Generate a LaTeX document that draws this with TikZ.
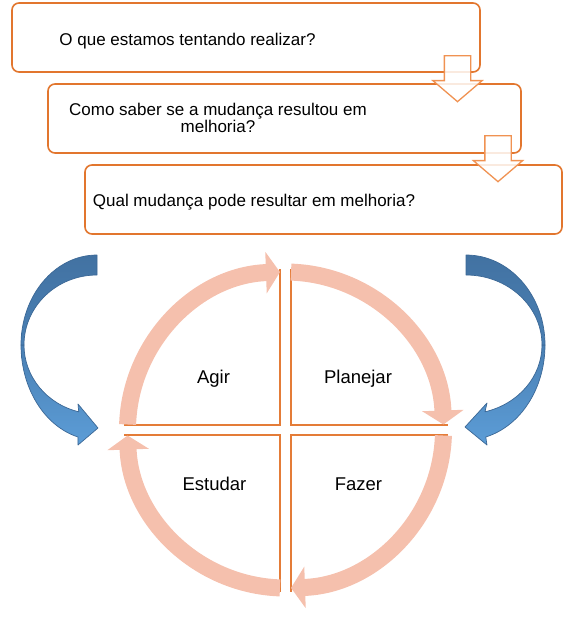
\documentclass[tikz,border=0pt]{standalone}
\usepackage{fontspec}
\setmainfont{Liberation Sans}
\usetikzlibrary{arrows.meta,shapes.arrows}
\definecolor{boxorange}{RGB}{226,118,46}
\definecolor{arroworange}{RGB}{240,146,82}
\definecolor{cyclepink}{RGB}{245,192,173}
\definecolor{quadline}{RGB}{228,124,56}
\definecolor{bluedark}{RGB}{66,114,162}
\definecolor{bluemid}{RGB}{74,128,180}
\definecolor{bluelight}{RGB}{92,157,215}
\definecolor{blueedge}{RGB}{60,104,150}

\begin{document}
\begin{tikzpicture}[
  x=1pt, y=-1pt,
  font=\fontsize{17}{17.7}\selectfont,
  question/.style={
    draw=boxorange,
    line width=1.6pt,
    rounded corners=7pt,
    fill=white,
    minimum height=69pt,
    inner sep=0pt
  },
  qtext/.style={align=center, inner sep=0pt},
  hollow/.style={
    single arrow,
    draw=arroworange,
    line width=1.3pt,
    fill=white,
    fill opacity=.85,
    draw opacity=1,
    minimum width=48pt,
    minimum height=46pt,
    single arrow head extend=11.5pt,
    single arrow tip angle=99,
    inner xsep=0pt,
    inner ysep=12.5pt,
    rotate=-90,
    anchor=tail
  },
  phase/.style={font=\fontsize{18.5}{20}\selectfont, inner sep=0pt, anchor=base},
  quad/.style={draw=quadline, line width=1.5pt},
  cycle/.style={draw=cyclepink, line width=17pt, -{Triangle[length=14pt, width=41pt]}},
  ribbon/.style={draw=blueedge, line width=.7pt, line join=round}
]
\useasboundingbox (0,0) rectangle (585,622);

\node[question, minimum width=468pt] (what) at (246,37.5) {};
\node[question, minimum width=473pt] (how) at (284.5,118.5) {};
\node[question, minimum width=477pt] (which) at (323.5,199.5) {};

\node[qtext, anchor=base] (whattext) at (187.5,45) {O que estamos tentando realizar?};
\node[qtext] (howtext) at (218,118) {Como saber se a mudança resultou em\\melhoria?};
\node[qtext, anchor=base] (whichtext) at (254,206) {Qual mudança pode resultar em melhoria?};

\node[hollow] (down1) at (457.5,55) {};
\node[hollow] (down2) at (498,135) {};

\coordinate (hub) at (285.5,430);

\draw[quad] (280,269) -- (280,425) -- (124,425);
\draw[quad] (291,269) -- (291,425) -- (448,425);
\draw[quad] (124,435) -- (280,435) -- (280,592);
\draw[quad] (448,435) -- (291,435) -- (291,592);

\draw[cycle] ([shift={(182:158)}]hub) arc[start angle=182, end angle=268, radius=158];
\draw[cycle] ([shift={(272:158)}]hub) arc[start angle=272, end angle=358, radius=158];
\draw[cycle] ([shift={(2:158)}]hub) arc[start angle=2, end angle=88, radius=158];
\draw[cycle] ([shift={(92:158)}]hub) arc[start angle=92, end angle=178, radius=158];

\node[phase] (agir) at (213.5,383) {Agir};
\node[phase] (planejar) at (358,383) {Planejar};
\node[phase] (estudar) at (214.5,490) {Estudar};
\node[phase] (fazer) at (358.5,490) {Fazer};

\coordinate (lpivot) at (97,345);
\coordinate (rpivot) at (466,345);

\draw[ribbon, top color=bluemid, bottom color=bluelight]
  ([shift={(180:76 and 95)}]lpivot) arc[start angle=180, end angle=104.5, x radius=76, y radius=95]
  -- (78,445) -- (98,428) -- (78,404)
  -- ([shift={(104.5:73 and 69)}]lpivot) arc[start angle=104.5, end angle=180, x radius=73, y radius=69] -- cycle;
\draw[ribbon, top color=bluedark, bottom color=bluemid]
  ([shift={(270:76 and 90)}]lpivot) arc[start angle=270, end angle=180, x radius=76, y radius=90]
  -- ([shift={(180:73 and 70)}]lpivot) arc[start angle=180, end angle=270, x radius=73, y radius=70] -- cycle;

\draw[ribbon, top color=bluemid, bottom color=bluelight]
  ([shift={(0:79 and 95)}]rpivot) arc[start angle=0, end angle=75.5, x radius=79, y radius=95]
  -- (487,445) -- (465,427) -- (487,403)
  -- ([shift={(75.5:76 and 69)}]rpivot) arc[start angle=75.5, end angle=0, x radius=76, y radius=69] -- cycle;
\draw[ribbon, top color=bluedark, bottom color=bluemid]
  ([shift={(270:79 and 90)}]rpivot) arc[start angle=270, end angle=360, x radius=79, y radius=90]
  -- ([shift={(0:76 and 70)}]rpivot) arc[start angle=0, end angle=-90, x radius=76, y radius=70] -- cycle;
\end{tikzpicture}
\end{document}
